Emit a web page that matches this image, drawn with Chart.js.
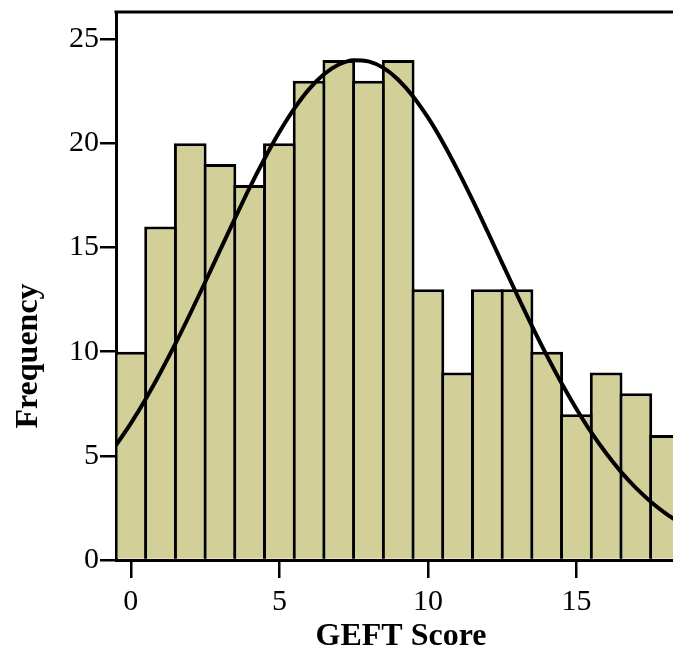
<!DOCTYPE html>
<html>
<head>
<meta charset="utf-8">
<script src="https://cdn.jsdelivr.net/npm/chart.js@4.4.1/dist/chart.umd.min.js"></script>
<style>
  html, body { margin: 0; padding: 0; background: #fff; }
  #wrap { width: 673px; height: 655px; }
</style>
</head>
<body>
<div id="wrap"><canvas id="histChart"></canvas></div>
<script>
// Histogram of GEFT scores
const scores = [0, 1, 2, 3, 4, 5, 6, 7, 8, 9, 10, 11, 12, 13, 14, 15, 16, 17, 18];
const frequencies = [10, 16, 20, 19, 18, 20, 23, 24, 23, 24, 13, 9, 13, 13, 10, 7, 9, 8, 6];

// Normal curve overlay, every half point
const curveX = [-0.5, 0, 0.5, 1, 1.5, 2, 2.5, 3, 3.5, 4, 4.5, 5, 5.5, 6, 6.5, 7, 7.5, 8, 8.5,
  9, 9.5, 10, 10.5, 11, 11.5, 12, 12.5, 13, 13.5, 14, 14.5, 15, 15.5, 16, 16.5, 17, 17.5, 18, 18.5];
const curveY = [5.51, 6.56, 7.73, 9.01, 10.38, 11.83, 13.33, 14.86, 16.38, 17.87, 19.26, 20.54,
  21.66, 22.60, 23.31, 23.78, 23.99, 23.93, 23.62, 23.05, 22.25, 21.24, 20.05, 18.71, 17.28,
  15.78, 14.25, 12.73, 11.24, 9.82, 8.48, 7.25, 6.12, 5.12, 4.23, 3.46, 2.80, 2.24, 1.77];

const xTitle = 'GEFT Score';
const yTitle = 'Frequency';

const serif = '"Liberation Serif", "Times New Roman", serif';

// top frame line and axis titles
const framePlugin = {
  id: 'frame',
  afterDatasetsDraw(chart) {
    const { ctx, chartArea } = chart;
    ctx.save();
    ctx.strokeStyle = '#000';
    ctx.lineWidth = 3;
    ctx.beginPath();
    ctx.moveTo(chartArea.left - 1.5, chartArea.top);
    ctx.lineTo(chartArea.right + 2, chartArea.top);
    ctx.stroke();
    ctx.restore();
  },
  afterDraw(chart) {
    const { ctx } = chart;
    ctx.save();
    ctx.fillStyle = '#000';
    ctx.font = 'bold 32px ' + serif;
    ctx.textAlign = 'center';
    ctx.textBaseline = 'alphabetic';
    ctx.fillText(xTitle, 401, 645);
    ctx.translate(37, 356);
    ctx.rotate(-Math.PI / 2);
    ctx.fillText(yTitle, 0, 0);
    ctx.restore();
  },
};

const ctx = document.getElementById('histChart').getContext('2d');

new Chart(ctx, {
  type: 'bar',
  data: {
    datasets: [
      {
        type: 'line',
        data: curveX.map((x, i) => ({ x: x, y: curveY[i] })),
        borderColor: '#000',
        borderWidth: 4,
        pointRadius: 0,
        cubicInterpolationMode: 'monotone',
        fill: false,
        order: 0,
      },
      {
        type: 'bar',
        data: scores.map((s, i) => ({ x: s, y: frequencies[i] })),
        backgroundColor: '#d3cf99',
        borderColor: '#000',
        borderWidth: 3,
        // slight overlap so neighbouring borders share one line
        barPercentage: 1.1,
        categoryPercentage: 1,
        order: 1,
      },
    ],
  },
  options: {
    responsive: true,
    maintainAspectRatio: false,
    animation: false,
    layout: { padding: { top: 12, right: 0, left: 0, bottom: 0 } },
    plugins: {
      legend: { display: false },
      tooltip: { enabled: false },
    },
    scales: {
      x: {
        type: 'linear',
        offset: false,
        min: -0.5,
        max: 18.25,
        afterFit: (scale) => {
          scale.height = 95;
          scale.paddingRight = 0;
          scale.paddingLeft = 0;
        },
        ticks: {
          stepSize: 5,
          includeBounds: false,
          color: '#000',
          padding: 6,
          font: { family: serif, size: 30 },
        },
        grid: {
          offset: false,
          drawOnChartArea: false,
          tickLength: 18,
          color: '#000',
          lineWidth: 2.5,
        },
        border: { color: '#000', width: 3 },
      },
      y: {
        min: 0,
        max: 26.3,
        afterFit: (scale) => {
          scale.width = 116;
          scale.paddingTop = 0;
          scale.paddingBottom = 0;
        },
        ticks: {
          stepSize: 5,
          includeBounds: false,
          color: '#000',
          padding: 1,
          font: { family: serif, size: 30 },
        },
        grid: {
          drawOnChartArea: false,
          tickLength: 16,
          color: '#000',
          lineWidth: 2.5,
        },
        border: { color: '#000', width: 3 },
      },
    },
  },
  plugins: [framePlugin],
});
</script>
</body>
</html>
